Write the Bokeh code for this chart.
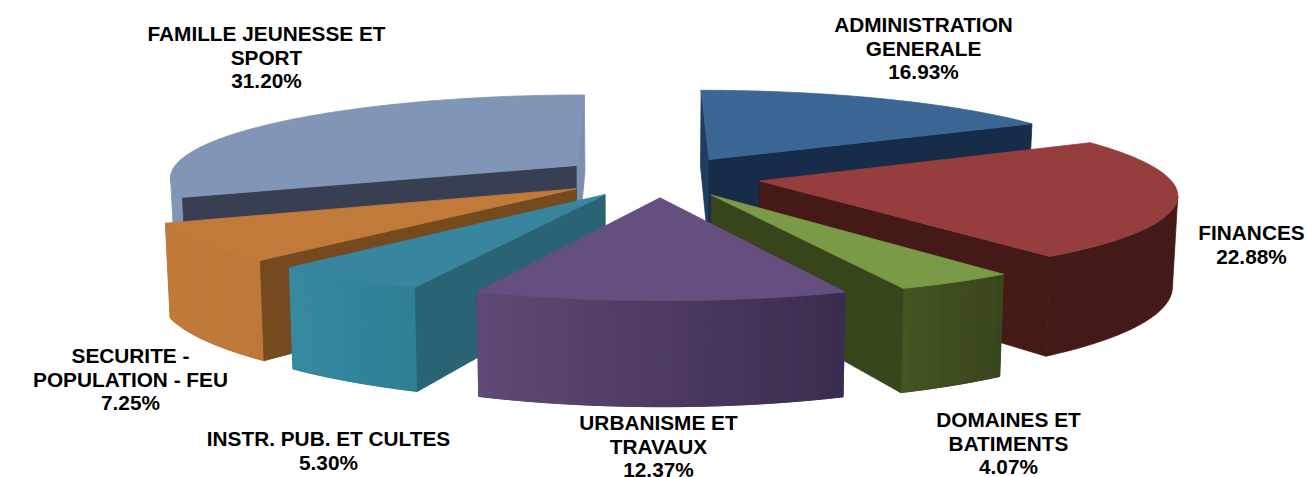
import math
from bokeh.plotting import figure
from bokeh.models import Range1d
from bokeh.core.properties import value
from bokeh.embed import file_html
from bokeh.resources import INLINE

categories = ["ADMINISTRATION\nGENERALE", "FINANCES", "DOMAINES ET\nBATIMENTS", "URBANISME ET\nTRAVAUX",
              "INSTR. PUB. ET CULTES", "SECURITE -\nPOPULATION - FEU", "FAMILLE JEUNESSE ET\nSPORT"]
shares = [16.93, 22.88, 4.07, 12.37, 5.30, 7.25, 31.20]

top_colors = ["#3C6794", "#963E3D", "#7A9A48", "#654F80", "#37859F", "#C27A3A", "#8195B7"]
radial_start = ["#1F3C60", "#441916", "#37451B", "#3A2C4F", "#2A6474", "#744A1E", "#393F52"]
radial_end = ["#162C48", "#441916", "#37451B", "#604A75", "#2A6474", "#744A1E", "#7C8FB0"]
outer_start = ["#162C48", "#431A17", "#38461C", "#3A2C4F", "#2F7F95", "#BE7839", "#8195B7"]
outer_end = ["#162C48", "#431A17", "#445422", "#604A75", "#358AA0", "#C27A3A", "#8195B7"]
paint_order = [0, 6, 1, 5, 2, 4, 3]

label_cx = [923, 1251, 1008, 658, 328, 130, 266]
label_top = [24, 232, 419, 422, 438, 355, 33]

# camera model
RADIUS, EXPLODE, CX, CY = 425.0, 105.0, 20.0, 118.0
D, HORIZON, H, VX = 3045.0, -440.0, 640.0, 640.0
DEPTH, SHRINK = 91.7, 0.99


def project(X, Y, bottom=False):
    w = D / (D + Y)
    if bottom:
        return VX + X * w * SHRINK, HORIZON + H * w + DEPTH * w
    return VX + X * w, HORIZON + H * w


def mix(a, b, f):
    ca = [int(a[i:i + 2], 16) for i in (1, 3, 5)]
    cb = [int(b[i:i + 2], 16) for i in (1, 3, 5)]
    return "#%02x%02x%02x" % tuple(round(p + (q - p) * f) for p, q in zip(ca, cb))


def polar(t):
    return math.sin(math.radians(t)), math.cos(math.radians(t))


def faces_toward(nx, ny, px, py):
    return nx * (0 - px) + ny * (-D - py) > 0


xs, ys, colors = [], [], []


def add(points, color):
    xs.append([q[0] for q in points])
    ys.append([q[1] for q in points])
    colors.append(color)


edges = [0.0]
for s in shares:
    edges.append(edges[-1] + s / sum(shares) * 360.0)

for i in paint_order:
    t0, t1 = edges[i], edges[i + 1]
    mx, my = polar((t0 + t1) / 2)
    ax, ay = CX + EXPLODE * mx, CY + EXPLODE * my

    def rim(t):
        n = polar(t)
        return ax + RADIUS * n[0], ay + RADIUS * n[1]

    steps = max(2, int((t1 - t0) / 1.0))
    ts = [t0 + (t1 - t0) * k / steps for k in range(steps + 1)]

    # outer wall: one underpaint, then colour strips over it
    strips = []
    for k in range(steps):
        tm = (ts[k] + ts[k + 1]) / 2
        n = polar(tm)
        q = rim(tm)
        if faces_toward(n[0], n[1], q[0], q[1]):
            strips.append((ts[k], ts[k + 1], tm))
    if strips:
        seq = [strips[0][0]] + [c[1] for c in strips]
        add([project(*rim(t)) for t in seq] + [project(*rim(t), True) for t in reversed(seq)],
            mix(outer_start[i], outer_end[i], 0.5))
        if outer_start[i] != outer_end[i]:
            for a_t, b_t, tm in strips:
                a, b = rim(a_t), rim(b_t)
                add([project(*a), project(*b), project(*b, True), project(*a, True)],
                    mix(outer_start[i], outer_end[i], (tm - t0) / (t1 - t0)))

    # radial walls
    n0 = polar(t0 - 90)
    e0 = rim(t0)
    if faces_toward(n0[0], n0[1], ax, ay):
        add([project(ax, ay), project(*e0), project(*e0, True), project(ax, ay, True)], radial_start[i])
    n1 = polar(t1 + 90)
    e1 = rim(t1)
    if faces_toward(n1[0], n1[1], ax, ay):
        add([project(ax, ay), project(*e1), project(*e1, True), project(ax, ay, True)], radial_end[i])

    # top face
    add([project(ax, ay)] + [project(*rim(t)) for t in ts], top_colors[i])

p = figure(width=1307, height=477, x_range=Range1d(0, 1307), y_range=Range1d(477, 0),
           output_backend="svg", toolbar_location=None, min_border=0)
p.axis.visible = False
p.grid.visible = False
p.outline_line_color = None
p.background_fill_color = "#FFFFFF"
p.border_fill_color = "#FFFFFF"

p.patches(xs, ys, fill_color=colors, line_color=colors, line_width=0.8)

tx, ty, tt = [], [], []
LINE = 23.5
for name, v, cx, top in zip(categories, shares, label_cx, label_top):
    lines = name.split("\n") + ["%.2f%%" % v]
    for j, line in enumerate(lines):
        tx.append(cx)
        ty.append(top + j * LINE)
        tt.append(line)

p.text(tx, ty, text=tt, text_font=value("Liberation Sans"), text_font_style="bold",
       text_font_size="20.8px", text_align="center", text_baseline="middle", text_color="#000000")

open("out.html", "w").write(file_html(p, INLINE))
